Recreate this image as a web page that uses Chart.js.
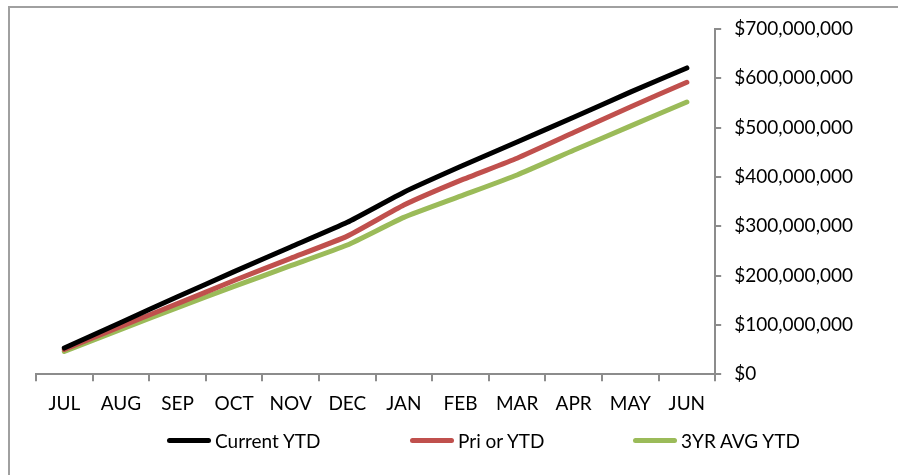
<!DOCTYPE html>
<html>
<head>
<meta charset="utf-8">
<script src="https://cdn.jsdelivr.net/npm/chart.js@4"></script>
<style>
  body { margin: 0; background: #fff; }
  #wrap { position: relative; width: 898px; height: 475px; overflow: hidden; }
  #frame { position: absolute; left: 8px; top: 6px; width: 960px; height: 480px;
           border-left: 2px solid #a0a0a0; border-top: 2px solid #a0a0a0; box-sizing: border-box; }
  #grafico { position: absolute; left: 0; top: 0; }
  #legenda { position: absolute; left: 0; top: 427px; width: 898px; height: 26px;
             font-family: Lato, 'Open Sans', sans-serif; font-size: 19px; color: #000; }
  .item { position: absolute; top: 0; display: flex; align-items: center; height: 26px; }
  .item span.linha { display: inline-block; width: 44px; height: 5px; border-radius: 3px; margin-right: 4px; }
</style>
</head>
<body>
<div id="wrap">
  <div id="frame"></div>
  <canvas id="grafico" width="898" height="475"></canvas>
  <div id="legenda"></div>
</div>
<script>
// meses do ano fiscal
const meses = ['JUL', 'AUG', 'SEP', 'OCT', 'NOV', 'DEC', 'JAN', 'FEB', 'MAR', 'APR', 'MAY', 'JUN'];

// valores acumulados (em dolares)
const currentYTD = [53e6, 105e6, 157e6, 208e6, 258e6, 308e6, 369e6, 421e6, 471e6, 521e6, 572e6, 621e6];
const priorYTD   = [50e6, 97e6, 143e6, 190e6, 235e6, 280e6, 343e6, 393e6, 438e6, 490e6, 542e6, 592e6];
const avg3YTD    = [46e6, 91e6, 135e6, 178e6, 220e6, 262e6, 318e6, 361e6, 404e6, 454e6, 503e6, 552e6];

const nomes = ['Current YTD', 'Pri or YTD', '3YR AVG YTD'];
const cores = ['#000000', '#C0504D', '#9BBB59'];
const legendaX = [167, 410, 633]; // posicao de cada item da legenda

const fonte = { family: 'Lato, "Open Sans", sans-serif', size: 19 };

const ctx = document.getElementById('grafico').getContext('2d');
const grafico = new Chart(ctx, {
    type: 'line',
    data: {
        labels: meses,
        datasets: [currentYTD, priorYTD, avg3YTD].map((serie, i) => ({
            label: nomes[i],
            data: serie,
            borderColor: cores[i],
            backgroundColor: cores[i],
            borderWidth: 5,
            borderCapStyle: 'round',
            borderJoinStyle: 'round',
            pointRadius: 0,
            tension: 0.15,
            fill: false
        }))
    },
    options: {
        responsive: false,
        animation: false,
        layout: { padding: { left: 36, top: 29, right: 32, bottom: 49 } },
        plugins: {
            legend: { display: false },
            tooltip: { enabled: false }
        },
        scales: {
            x: {
                offset: true,
                grid: { offset: true, drawOnChartArea: false, drawTicks: true, tickLength: 7, color: '#8c8c8c', lineWidth: 2 },
                border: { color: '#8c8c8c', width: 2 },
                ticks: { color: '#000', font: fonte, padding: 11, maxRotation: 0 }
            },
            y: {
                position: 'right',
                min: 0,
                max: 700000000,
                grid: { drawOnChartArea: false, drawTicks: true, tickLength: 6, color: '#8c8c8c', lineWidth: 2 },
                border: { color: '#8c8c8c', width: 2 },
                ticks: {
                    stepSize: 100000000,
                    color: '#000',
                    font: fonte,
                    padding: 13,
                    callback: v => '$' + v.toLocaleString('en-US')
                }
            }
        }
    }
});

// legenda em HTML, montada a partir dos datasets
const legenda = document.getElementById('legenda');
grafico.data.datasets.forEach((ds, i) => {
    const item = document.createElement('div');
    item.className = 'item';
    item.style.left = legendaX[i] + 'px';
    const linha = document.createElement('span');
    linha.className = 'linha';
    linha.style.background = ds.borderColor;
    item.appendChild(linha);
    item.appendChild(document.createTextNode(ds.label));
    legenda.appendChild(item);
});
</script>
</body>
</html>
